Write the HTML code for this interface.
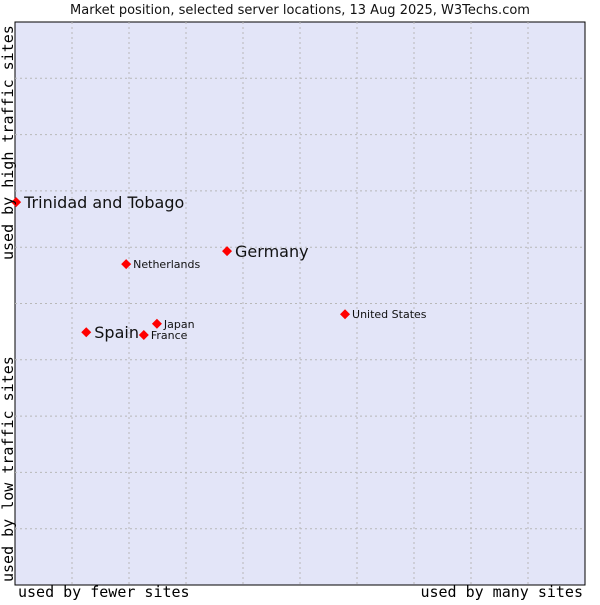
<!DOCTYPE html>
<html><head><meta charset="utf-8"><style>
body{margin:0;background:#fff;width:600px;height:600px;overflow:hidden}
svg text{font-family:"DejaVu Sans","Liberation Sans",sans-serif}
.mono{font-family:"DejaVu Sans Mono","Liberation Mono",monospace}
</style></head><body>
<svg id="chart" width="600" height="600" xmlns="http://www.w3.org/2000/svg">
<text x="300" y="14" text-anchor="middle" font-size="13" fill="#111">Market position, selected server locations, 13 Aug 2025, W3Techs.com</text>
<rect x="15" y="22" width="570" height="563" fill="#e3e5f8" stroke="#000" stroke-width="1"/>
<g id="grid"></g>
<g id="points"></g>
<text class="mono" x="18" y="597" font-size="15" fill="#000">used by fewer sites</text>
<text class="mono" x="583" y="597" font-size="15" text-anchor="end" fill="#000">used by many sites</text>
<text class="mono" transform="translate(13,582) rotate(-90)" font-size="15" fill="#000">used by low traffic sites</text>
<text class="mono" transform="translate(13,260) rotate(-90)" font-size="15" fill="#000">used by high traffic sites</text>
</svg>
<script>
const countries=["Trinidad and Tobago","Germany","Netherlands","United States","Japan","Spain","France"];
const xValues=[0.2,37.2,19.5,57.9,24.9,12.5,22.6];
const yValues=[68.0,59.3,57.0,48.1,46.4,44.9,44.4];
const large=[true,true,false,false,false,true,false];
const ns="http://www.w3.org/2000/svg";
const L=15,R=585,T=22,B=585;
const sx=v=>L+v/100*(R-L), sy=v=>B-v/100*(B-T);
const grid=document.getElementById('grid');
for(let i=1;i<10;i++){
  const v=document.createElementNS(ns,'line');
  
  
  v.setAttribute('x1',sx(i*10));v.setAttribute('x2',sx(i*10));v.setAttribute('y1',T);v.setAttribute('y2',B);
  v.setAttribute('stroke','#b8b8b8');v.setAttribute('stroke-dasharray','2,3');grid.appendChild(v);
  const h=document.createElementNS(ns,'line');
  
  
  h.setAttribute('y1',sy(i*10));h.setAttribute('y2',sy(i*10));h.setAttribute('x1',L);h.setAttribute('x2',R);
  h.setAttribute('stroke','#b8b8b8');h.setAttribute('stroke-dasharray','2,3');grid.appendChild(h);
}
const pts=document.getElementById('points');
countries.forEach((c,i)=>{
  const x=sx(xValues[i]),y=sy(yValues[i]);
  const m=document.createElementNS(ns,'path');
  
  
  m.setAttribute('d',`M${x},${y-5}L${x+5},${y}L${x},${y+5}L${x-5},${y}Z`);
  m.setAttribute('fill','#f00');pts.appendChild(m);
  const t=document.createElementNS(ns,'text');
  
  
  t.setAttribute('x',x+(large[i]?8:7));t.setAttribute('y',y+(large[i]?6:4));
  t.setAttribute('font-size',large[i]?16:11);t.setAttribute('fill','#111');
  t.textContent=c;pts.appendChild(t);
});
</script>
</body></html>
